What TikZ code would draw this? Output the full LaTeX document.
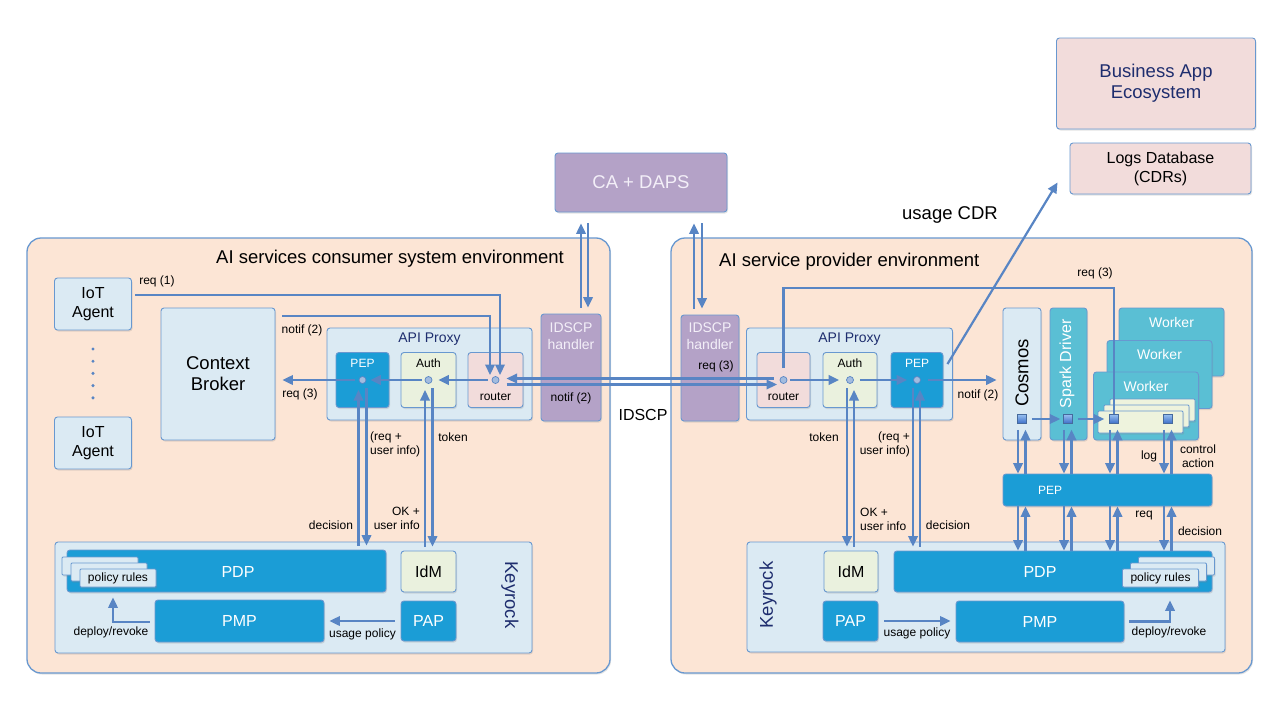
\documentclass[tikz,border=0pt]{standalone}
\usepackage{fontspec}
\setmainfont{Liberation Sans}
\usetikzlibrary{arrows.meta,positioning,shadows}

\definecolor{peach}{RGB}{252,229,213}
\definecolor{edge}{RGB}{104,152,208}
\definecolor{paleblue}{RGB}{219,234,243}
\definecolor{pepblue}{RGB}{27,157,214}
\definecolor{sparkteal}{RGB}{90,191,212}
\definecolor{paleleaf}{RGB}{234,241,222}
\definecolor{rosy}{RGB}{242,220,219}
\definecolor{lilac}{RGB}{180,162,199}
\definecolor{lilactxt}{RGB}{243,239,248}
\definecolor{flow}{RGB}{88,133,196}
\definecolor{navy}{RGB}{30,45,110}
\definecolor{cardfill}{RGB}{238,243,221}
\definecolor{sqtop}{RGB}{150,190,240}
\definecolor{sqbot}{RGB}{60,110,200}

\begin{document}
\begin{tikzpicture}[x=1pt,y=1pt,>={Triangle[length=10.5pt,width=9.5pt]},
  font=\fontsize{12}{14}\selectfont,
  wh/.style 2 args={minimum width=#1pt,minimum height=#2pt},
  softshadow/.style={drop shadow={opacity=0.22,shadow xshift=1pt,shadow yshift=-1.5pt}},
  envbox/.style={draw=edge,fill=peach,line width=1.3pt,rounded corners=14pt,softshadow},
  blk/.style={draw=edge,line width=0.9pt,rounded corners=3pt,inner sep=1pt,align=center,softshadow},
  pale/.style={blk,fill=paleblue},
  pepbox/.style={blk,fill=pepblue,text=white},
  leaf/.style={blk,fill=paleleaf},
  rose/.style={blk,fill=rosy},
  lilacbox/.style={blk,fill=lilac,text=lilactxt},
  spark/.style={blk,fill=sparkteal,text=white},
  card/.style={blk,fill=cardfill,rounded corners=1pt,wh={85}{22}},
  rules/.style={blk,fill=paleblue,rounded corners=1pt,wh={76}{18}},
  sq/.style={draw=flow!80!black,top color=sqtop,bottom color=sqbot,minimum size=9pt,inner sep=0pt,line width=0.5pt},
  dot/.style={circle,draw=flow,fill=flow!55!white,line width=0.7pt,inner sep=0pt,minimum size=7pt},
  vdot/.style={circle,fill=flow,inner sep=0pt,minimum size=3.4pt},
  lab/.style={inner sep=1pt,align=center},
  link/.style={draw=flow,line width=2.2pt,->},
  wire/.style={draw=flow,line width=2.2pt},
  fbig/.style={font=\fontsize{18.5}{21}\selectfont},
  fmid/.style={font=\fontsize{16}{19}\selectfont},
  fsml/.style={font=\fontsize{14}{17}\selectfont}]

\useasboundingbox (0,0) rectangle (1280,-720);
\fill[white] (0,0) rectangle (1280,-720);

% environments
\node[envbox,wh={583}{435}] (envL) at (318.5,-455.5) {};
\node[envbox,wh={581}{435}] (envR) at (961.5,-455.5) {};
\node[lab,fbig] (envLtitle) at (390,-259) {AI services consumer system environment};
\node[lab,fbig,anchor=west] (envRtitle) at (718,-262) {AI service provider environment};

% outside the environments
\node[lilacbox,fbig,wh={172}{59}] (ca) at (641,-182.5) {CA + DAPS};
\node[rose,fbig,text=navy,wh={199}{91}] (bizapp) at (1156,-83.5) {Business App\\Ecosystem};
\node[rose,fmid,wh={181}{51}] (logs) at (1160.5,-168.5) {Logs Database\\(CDRs)};
\node[lab,fbig] (cdrlbl) at (950,-215) {usage CDR};

% consumer side
\node[pale,fmid,wh={77}{52}] (iotA) at (93,-304) {IoT\\Agent};
\node[pale,fmid,wh={77}{52}] (iotB) at (93,-443) {IoT\\Agent};
\foreach \k in {0,...,4}
  \node[vdot] (ell\k) at (93,{-349-12.2*\k}) {};
\node[pale,fbig,wh={114}{132}] (cb) at (218,-374) {Context\\Broker};
\node[pale,wh={205}{92}] (proxyL) at (429.5,-374) {};
\node[lab,fsml,text=navy] (proxyLtxt) at (429.5,-339) {API Proxy};
\node[pepbox,wh={53}{55}] (pepL) at (362.5,-380) {};
\node[leaf,wh={55}{55}] (authL) at (428.5,-380) {};
\node[rose,wh={55}{55}] (routerL) at (495.5,-380) {};
\node[lab,text=white] (pepLtxt) at (362.5,-363) {PEP};
\node[lab] (authLtxt) at (428.5,-363) {Auth};
\node[lab] (routerLtxt) at (495.5,-397) {router};
\node[dot] (pdotL) at (pepL.center) {};
\node[dot] (adotL) at (authL.center) {};
\node[dot] (rdotL) at (routerL.center) {};
\node[lilacbox,wh={60}{107}] (idscpL) at (571,-367.5) {};
\node[lab,fsml,text=lilactxt] (idscpLtxt) at (571,-336.5) {IDSCP\\handler};
\node[lab] (notifH) at (571,-398) {notif (2)};

\node[pale,wh={477}{111}] (keyL) at (293.5,-597.5) {};
\node[lab,fbig,text=navy,rotate=-90] (keyLtxt) at (510,-595) {Keyrock};
\node[pepbox,wh={319}{42}] (pdpL) at (226.5,-571) {};
\node[lab,fmid,text=white] (pdpLtxt) at (238,-572) {PDP};
\foreach \k in {2,1}
  \node[rules] (polL\k) at ({118-9*\k},{-578+6*\k}) {};
\node[rules] (polL) at (118,-578) {policy rules};
\node[leaf,fmid,wh={55}{41}] (idmL) at (428.5,-571.5) {IdM};
\node[pepbox,fmid,wh={169}{42}] (pmpL) at (239.5,-621) {PMP};
\node[pepbox,fmid,wh={55}{40}] (papL) at (428.5,-621) {PAP};

% provider side
\node[lilacbox,wh={58}{106}] (idscpR) at (710,-368) {};
\node[lab,fsml,text=lilactxt] (idscpRtxt) at (710,-336.5) {IDSCP\\handler};
\node[lab] (reqH) at (716,-366) {req (3)};
\node[pale,wh={206}{92}] (proxyR) at (849.5,-374) {};
\node[lab,fsml,text=navy] (proxyRtxt) at (849.5,-339) {API Proxy};
\node[rose,wh={53}{55}] (routerR) at (783.5,-380) {};
\node[leaf,wh={54}{55}] (authR) at (850,-380) {};
\node[pepbox,wh={52}{55}] (pepR) at (917,-380) {};
\node[lab] (routerRtxt) at (783.5,-397) {router};
\node[lab] (authRtxt) at (850,-363) {Auth};
\node[lab,text=white] (pepRtxt) at (917,-363) {PEP};
\node[dot] (rdotR) at (routerR.center) {};
\node[dot] (adotR) at (authR.center) {};
\node[dot] (pdotR) at (pepR.center) {};

\node[pale,wh={38}{132}] (cosmos) at (1022,-374) {};
\node[lab,fbig,rotate=90] (cosmostxt) at (1022,-373) {Cosmos};
\node[spark,wh={37}{132}] (sparkdrv) at (1068.5,-374) {};
\node[lab,fmid,text=white,rotate=90] (sparktxt) at (1067,-364) {Spark Driver};
\foreach \k/\x/\y in {3/1171.5/342,2/1159.5/374.5,1/1146/406}{
  \node[spark,wh={105}{68}] (worker\k) at (\x,-\y) {};
  \node[lab,fsml,text=white] (wtxt\k) at (\x,{-\y+20}) {Worker};
}
\foreach \k in {2,1}
  \node[card] (card\k) at ({1140.5+6*\k},{-422+6*\k}) {};
\node[card] (cardF) at (1140.5,-422) {};
\node[pepbox,wh={209}{32}] (pepbar) at (1107.5,-490) {};
\node[lab,text=white] (pepbartxt) at (1050,-490) {PEP};

\node[pale,wh={478}{110}] (keyR) at (986,-597) {};
\node[lab,fbig,text=navy,rotate=90] (keyRtxt) at (768,-595) {Keyrock};
\node[leaf,fmid,wh={54}{41}] (idmR) at (851,-571.5) {IdM};
\node[pepbox,wh={318}{41}] (pdpR) at (1053,-571.5) {};
\node[lab,fmid,text=white] (pdpRtxt) at (1040,-572) {PDP};
\foreach \k in {2,1}
  \node[rules] (polR\k) at ({1160.5+8*\k},{-578+6*\k}) {};
\node[rules] (polR) at (1160.5,-578) {policy rules};
\node[pepbox,fmid,wh={55}{40}] (papR) at (850.5,-621) {PAP};
\node[pepbox,fmid,wh={168}{41}] (pmpR) at (1040,-621.5) {PMP};

\node[sq] (sqA) at (1022,-419) {};
\node[sq] (sqB) at (1068,-419) {};
\node[sq] (sqC) at (1114,-419) {};
\node[sq] (sqD) at (1168,-419) {};

% consumer flows
\draw[link,shorten <=3pt] ([yshift=9pt]iotA.east) -| ([xshift=4.5pt,yshift=5pt]rdotL.center);
\draw[link,shorten <=7pt] ([yshift=58pt]cb.east) -| ([xshift=-5.5pt,yshift=5pt]rdotL.center);
\draw[link,shorten <=4pt,shorten >=6pt] (rdotL) -- (adotL);
\draw[link,shorten <=3pt,shorten >=4pt] (adotL) -- (pdotL);
\draw[link,shorten <=4pt,shorten >=7pt] (pdotL) -- (pdotL -| cb.east);

% IDSCP channel
\draw[link,shorten <=10pt,shorten >=11pt] ([yshift=1.5pt]rdotR.center) -- ([yshift=1.5pt]rdotL.center);
\draw[link,shorten <=11pt,shorten >=6.5pt] ([yshift=-4.5pt]rdotL.center) -- ([yshift=-4.5pt]rdotR.center);
\draw[link,shorten <=6pt,shorten >=11pt] ([xshift=10pt]idscpL.north) -- ([xshift=10pt]idscpL.north |- ca.south);
\draw[link,shorten <=11pt,shorten >=6pt] ([xshift=17pt]idscpL.north |- ca.south) -- ([xshift=17pt]idscpL.north);
\draw[link,shorten <=6pt,shorten >=11pt] ([xshift=-16pt]idscpR.north) -- ([xshift=-16pt]idscpR.north |- ca.south);
\draw[link,shorten <=11pt,shorten >=6pt] ([xshift=-8pt]idscpR.north |- ca.south) -- ([xshift=-8pt]idscpR.north);

% consumer keyrock
\draw[link,shorten <=4pt] ([xshift=-4pt]pdotL.center |- pdpL.north) -- ([xshift=-4pt,yshift=-10pt]pdotL.center);
\draw[link,shorten >=4pt] ([xshift=4pt,yshift=-8pt]pdotL.center) -- ([xshift=4pt]pdotL.center |- pdpL.north);
\draw[link,shorten <=4pt] ([xshift=-3.5pt]adotL.center |- idmL.north) -- ([xshift=-3.5pt,yshift=-10pt]adotL.center);
\draw[link,shorten >=4pt] ([xshift=4pt,yshift=-8pt]adotL.center) -- ([xshift=4pt]adotL.center |- idmL.north);
\draw[link,shorten <=6pt,shorten >=5pt] (papL.west) -- (papL.west -| pmpL.east);
\draw[link,shorten <=5pt] ([yshift=-1pt]pmpL.west) -| ([xshift=-5pt,yshift=-10pt]polL.south);

% provider flows
\draw[link,shorten <=2.5pt,shorten >=7pt] (rdotR) -- (adotR);
\draw[link,shorten <=6pt,shorten >=6pt] (adotR) -- (pdotR);
\draw[link,shorten <=7pt,shorten >=6pt] (pdotR) -- (pdotR -| cosmos.west);
\draw[wire] ([yshift=12pt]rdotR.center) |- ([yshift=126pt]sqC.north) -- (sqC.north);
\draw[link] ([xshift=4pt,yshift=-12pt]pepR.north east) -- ([xshift=-12pt,yshift=12pt]logs.south west);
\draw[link,shorten <=5pt,shorten >=3pt] (sqA.east) -- (sqB.west);
\draw[link,shorten <=5pt,shorten >=5pt] (sqB.east) -- (sqC.west);
\foreach \s in {sqA,sqB,sqC,sqD}{
  \draw[link,shorten <=6pt] ([xshift=-4pt]\s.south) -- ([xshift=-4pt]\s.south |- pepbar.north);
  \draw[link,shorten >=6pt] ([xshift=3.5pt]\s.south |- pepbar.north) -- ([xshift=3.5pt]\s.south);
  \draw[link] ([xshift=-4pt]\s.south |- pepbar.south) -- ([xshift=-4pt]\s.south |- pdpR.north);
  \draw[link] ([xshift=3.5pt]\s.south |- pdpR.north) -- ([xshift=3.5pt]\s.south |- pepbar.south);
}

% provider keyrock
\draw[link,shorten >=4pt] ([xshift=-3pt,yshift=-8pt]adotR.center) -- ([xshift=-3pt]adotR.center |- idmR.north);
\draw[link,shorten <=4pt] ([xshift=4pt]adotR.center |- idmR.north) -- ([xshift=4pt,yshift=-10pt]adotR.center);
\draw[link,shorten >=4pt] ([xshift=-4pt,yshift=-8pt]pdotR.center) -- ([xshift=-4pt]pdotR.center |- pdpR.north);
\draw[link,shorten <=4pt] ([xshift=3pt]pdotR.center |- pdpR.north) -- ([xshift=3pt,yshift=-10pt]pdotR.center);
\draw[link,shorten <=6pt,shorten >=5pt] (papR.east) -- (papR.east -| pmpR.west);
\draw[link,shorten <=5pt] (pmpR.east) -| ([xshift=9.5pt,yshift=-13pt]polR.south);

% labels
\node[lab] (lreq1) at (157,-281) {req (1)};
\node[lab] (lnotifCB) at (302,-330) {notif (2)};
\node[lab] (lreq3L) at (300,-394) {req (3)};
\node[lab,align=left,anchor=west] (lreqinfoL) at (369,-444) {(req +\\user info)};
\node[lab] (ltokenL) at (453,-437) {token};
\node[lab] (ldecL) at (331,-525) {decision};
\node[lab,align=right,anchor=east] (lokL) at (421,-518) {OK +\\user info};
\node[lab] (lusageL) at (362.5,-634) {usage policy};
\node[lab] (ldeployL) at (111,-632) {deploy/revoke};
\node[lab,fmid] (lidscp) at (643,-415) {IDSCP};
\node[lab] (lreq3R) at (1095,-273) {req (3)};
\node[lab] (lnotifR) at (978,-395) {notif (2)};
\node[lab] (ltokenR) at (824,-437) {token};
\node[lab,align=right,anchor=east] (lreqinfoR) at (911,-444) {(req +\\user info)};
\node[lab,align=left,anchor=west] (lokR) at (859,-519) {OK +\\user info};
\node[lab] (ldecR) at (948,-525) {decision};
\node[lab] (llog) at (1149,-456) {log};
\node[lab] (lctrl) at (1198,-456) {control\\action};
\node[lab] (lreqR) at (1144,-516) {req};
\node[lab] (ldecR2) at (1200,-531) {decision};
\node[lab] (lusageR) at (917,-633) {usage policy};
\node[lab] (ldeployR) at (1169,-632) {deploy/revoke};
\end{tikzpicture}
\end{document}
